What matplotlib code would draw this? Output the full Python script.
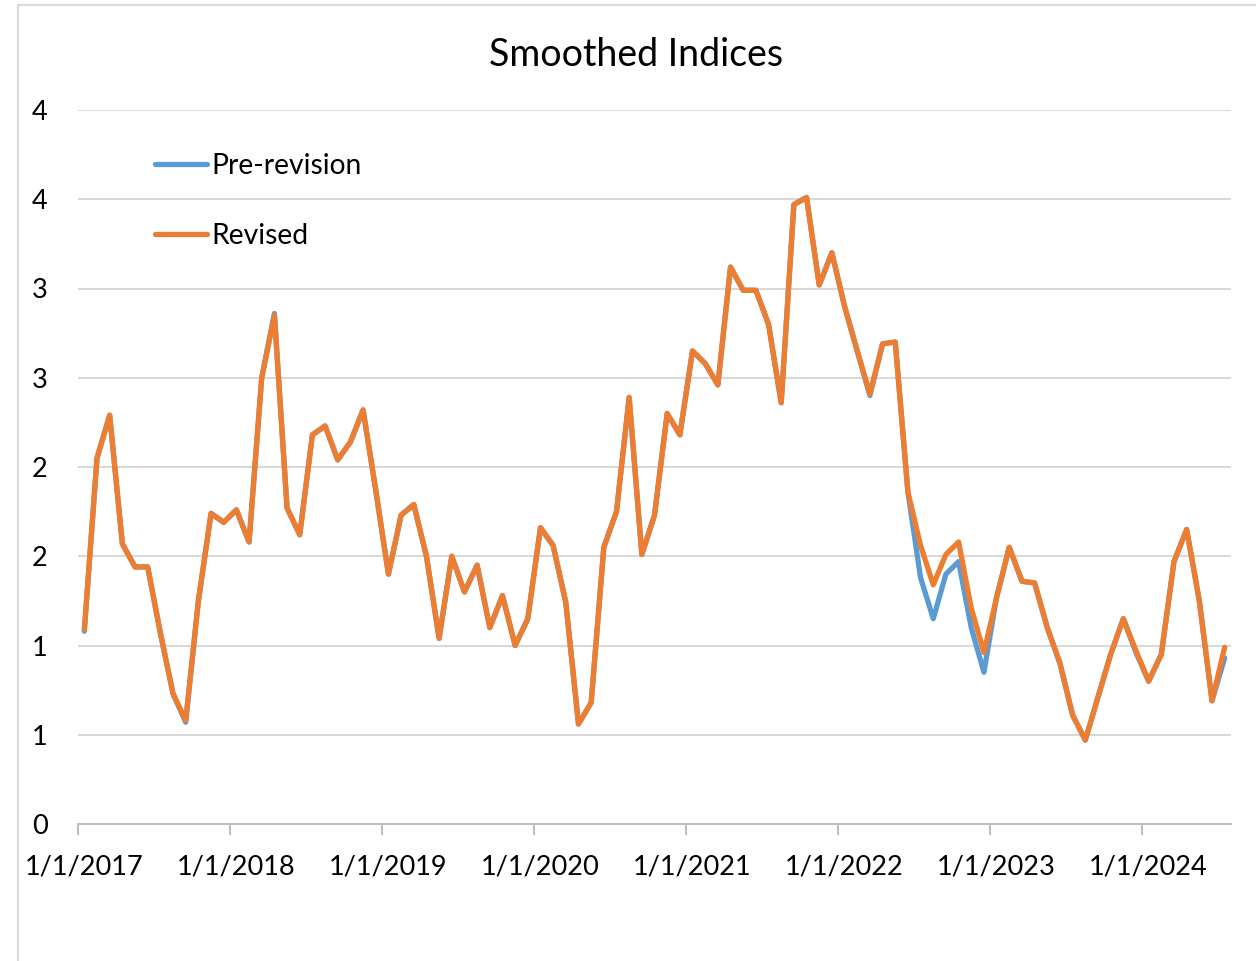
import matplotlib
matplotlib.use("Agg")
import matplotlib.pyplot as plt
from matplotlib.patches import Rectangle
import numpy as np

# Monthly observations, Jan 2017 .. Jul 2024
start_year = 2017
n_months = 91

revised = [1.09, 2.05, 2.29, 1.57, 1.44, 1.44, 1.07, 0.73, 0.58, 1.25, 1.74, 1.69,
           1.76, 1.58, 2.50, 2.85, 1.77, 1.62, 2.18, 2.23, 2.04, 2.14, 2.32, 1.87,
           1.40, 1.73, 1.79, 1.50, 1.04, 1.50, 1.30, 1.45, 1.10, 1.28, 1.00, 1.15,
           1.66, 1.56, 1.24, 0.56, 0.68, 1.55, 1.75, 2.39, 1.51, 1.73, 2.30, 2.18,
           2.65, 2.58, 2.46, 3.12, 2.99, 2.99, 2.80, 2.36, 3.47, 3.51, 3.02, 3.20,
           2.90, 2.65, 2.41, 2.69, 2.70, 1.86, 1.56, 1.34, 1.51, 1.58, 1.21, 0.96,
           1.27, 1.55, 1.36, 1.35, 1.10, 0.90, 0.61, 0.47, 0.71, 0.95, 1.15, 0.97,
           0.80, 0.95, 1.47, 1.65, 1.25, 0.69, 0.99]

pre_revision = [1.08, 2.05, 2.29, 1.57, 1.44, 1.44, 1.07, 0.73, 0.57, 1.25, 1.74, 1.69,
                1.76, 1.58, 2.50, 2.86, 1.77, 1.62, 2.18, 2.23, 2.04, 2.14, 2.32, 1.87,
                1.40, 1.73, 1.79, 1.50, 1.04, 1.50, 1.30, 1.45, 1.10, 1.28, 1.00, 1.15,
                1.66, 1.56, 1.24, 0.56, 0.68, 1.55, 1.75, 2.39, 1.51, 1.73, 2.30, 2.18,
                2.65, 2.58, 2.46, 3.12, 2.99, 2.99, 2.80, 2.36, 3.47, 3.51, 3.02, 3.20,
                2.90, 2.65, 2.40, 2.69, 2.70, 1.86, 1.38, 1.15, 1.40, 1.47, 1.10, 0.85,
                1.27, 1.55, 1.36, 1.35, 1.10, 0.90, 0.61, 0.47, 0.71, 0.95, 1.15, 0.96,
                0.80, 0.95, 1.47, 1.65, 1.25, 0.69, 0.93]

year_labels = ["1/1/2017", "1/1/2018", "1/1/2019", "1/1/2020",
               "1/1/2021", "1/1/2022", "1/1/2023", "1/1/2024"]
y_ticks = [0, 0.5, 1, 1.5, 2, 2.5, 3, 3.5, 4]
y_tick_labels = ["0", "1", "1", "2", "2", "3", "3", "4", "4"]

title = "Smoothed Indices"
series_names = ["Pre-revision", "Revised"]
colors = ["#5B9BD5", "#ED7D31"]

plt.rcParams['font.family'] = ['Lato', 'DejaVu Sans']

W, H = 1256, 961
fig = plt.figure(figsize=(W / 100, H / 100), dpi=100)
fig.patch.set_facecolor("white")

# chart border
fig.patches.append(Rectangle((18 / W, -0.05), 1.2, 1 - 5 / H + 0.05,
                             transform=fig.transFigure, fill=False,
                             edgecolor="#D9D9D9", linewidth=1.6))

ax_left, ax_right = 78 / W, 1231 / W
ax_bottom, ax_top = 1 - 824 / H, 1 - 110 / H
ax = fig.add_axes([ax_left, ax_bottom, ax_right - ax_left, ax_top - ax_bottom])

x = np.arange(n_months) + 0.5
lw = 3.8
ax.plot(x, pre_revision, color=colors[0], linewidth=lw, label=series_names[0],
        solid_joinstyle="round", solid_capstyle="round")
ax.plot(x, revised, color=colors[1], linewidth=lw, label=series_names[1],
        solid_joinstyle="round", solid_capstyle="round")

ax.set_xlim(0, n_months)
ax.set_ylim(0, 4)

ax.set_yticks(y_ticks)
ax.set_yticklabels(y_tick_labels, fontsize=19.5, color="#000000")
ax.tick_params(axis="y", length=0, pad=22)
ax.grid(axis="y", color="#D9D9D9", linewidth=1.5)
ax.set_axisbelow(True)

year_pos = [12 * i for i in range(len(year_labels))]
ax.set_xticks(year_pos)
ax.set_xticklabels([])
ax.set_xticks([p + 0.5 for p in year_pos], minor=True)
ax.set_xticklabels(year_labels, minor=True, fontsize=19.5)
ax.tick_params(axis="x", which="major", length=8, width=1.5, color="#BFBFBF", direction="out")
ax.tick_params(axis="x", which="minor", length=0, pad=22)

for s in ["left", "right", "top"]:
    ax.spines[s].set_visible(False)
ax.spines["bottom"].set_color("#BFBFBF")
ax.spines["bottom"].set_linewidth(1.5)

fig.text(636 / W, 1 - 55 / H, title, fontsize=27, ha="center", va="center")

leg = ax.legend(loc="upper left", bbox_to_anchor=((155 - 78) / 1153, (824 - 153) / 714),
                frameon=False, fontsize=20.3, handlelength=1.85, handletextpad=0.15,
                labelspacing=1.55, borderpad=0, borderaxespad=0)

fig.savefig("out.png", dpi=100)
